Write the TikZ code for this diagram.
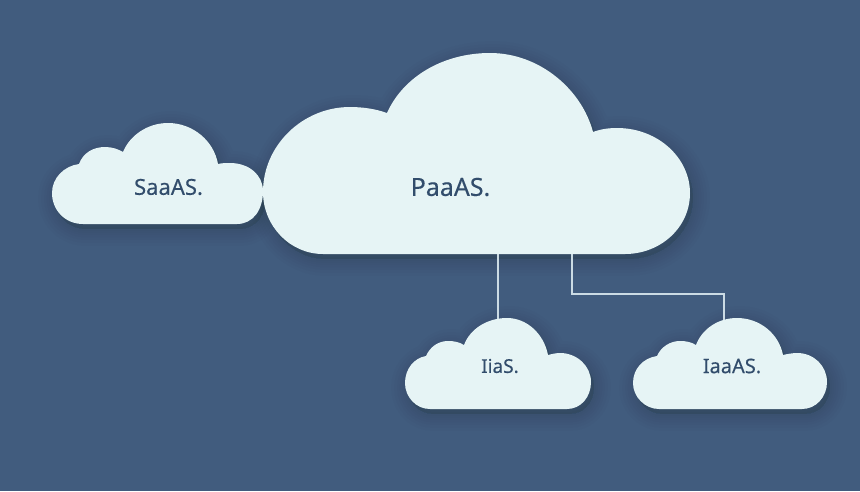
\documentclass[tikz,border=0pt]{standalone}
\usepackage{fontspec}
\setmainfont{Noto Sans}
\definecolor{bgblue}{HTML}{415C7E}
\definecolor{cloudfill}{HTML}{E6F4F5}
\definecolor{labelink}{HTML}{324D6C}
\definecolor{linkline}{HTML}{CBDBE4}
\def\paaspath{(323,254) .. controls (290,254) and (263,226) .. (263,192)
 .. controls (263,145) and (303,107) .. (350,107)
 .. controls (363,107) and (376,109) .. (387,113)
 .. controls (403,77) and (443,53) .. (490,53)
 .. controls (540,53) and (582,90) .. (593,132)
 .. controls (601,129) and (609,128) .. (617,128)
 .. controls (658,128) and (690,158) .. (690,193)
 .. controls (690,228) and (660,254) .. (625,254) -- cycle}
\def\saaspath{(83,224) .. controls (65,224) and (52,210) .. (52,193)
 .. controls (52,178) and (64,166) .. (79,164)
 .. controls (83,153) and (93,147) .. (105,147)
 .. controls (112,147) and (118,149) .. (123,152)
 .. controls (130,135) and (148,123) .. (168,123)
 .. controls (193,123) and (214,141) .. (218,164)
 .. controls (222,163) and (226,163) .. (230,163)
 .. controls (249,163) and (263,175) .. (263,191)
 .. controls (263,210) and (253,224) .. (237,224) -- cycle}
\def\iaaspath{(430,409) .. controls (416,409) and (405,397) .. (405,383)
 .. controls (405,369) and (414,358) .. (426,356)
 .. controls (430,347) and (438,341) .. (448,341)
 .. controls (454,341) and (459,342) .. (464,345)
 .. controls (470,329) and (487,318) .. (507,318)
 .. controls (527,318) and (544,334) .. (548,355)
 .. controls (552,354) and (556,353) .. (560,353)
 .. controls (577,353) and (591,366) .. (591,382)
 .. controls (591,397) and (581,409) .. (567,409) -- cycle}
\def\iiaaspath{(659,409) .. controls (645,409) and (633,397) .. (633,383)
 .. controls (633,369) and (643,358) .. (657,356)
 .. controls (661,347) and (670,341) .. (680,341)
 .. controls (686,341) and (691,342) .. (696,345)
 .. controls (702,329) and (718,318) .. (737,318)
 .. controls (760,318) and (779,334) .. (783,355)
 .. controls (787,354) and (793,353) .. (797,353)
 .. controls (814,353) and (827,366) .. (827,382)
 .. controls (827,397) and (816,409) .. (802,409) -- cycle}
\tikzset{
 cloudbody/.style={fill=cloudfill,draw=none},
 softshadow/.style={draw=black,fill=black,opacity=0.012,line join=round},
 linkstyle/.style={draw=linkline,line width=1.2pt},
 cloudlabel/.style={text=labelink,inner sep=0pt,anchor=center}
}
\newcommand{\softlayers}[1]{%
 \foreach \w in {34,28,22,17,12,8,4}{\path[softshadow,line width=\w pt,xshift=3pt,yshift=-5pt] #1;}}
\begin{document}
\begin{tikzpicture}[x=1pt,y=-1pt]
\useasboundingbox (0,0) rectangle (860,491);
\fill[bgblue] (0,0) rectangle (860,491);
\softlayers{\saaspath}
\softlayers{\iaaspath}
\softlayers{\iiaaspath}
\softlayers{\paaspath}
\coordinate (linkAtop) at (498,254);
\coordinate (linkAend) at (498,320);
\coordinate (linkBtop) at (572,254);
\coordinate (linkBend) at (724,322);
\draw[linkstyle] (linkAtop) -- (linkAend);
\draw[linkstyle] (linkBtop) |- (724,294) -- (linkBend);
\fill[cloudbody] \saaspath;
\fill[cloudbody] \paaspath;
\fill[cloudbody] \iaaspath;
\fill[cloudbody] \iiaaspath;
\node[cloudlabel,font=\fontsize{22}{26}\selectfont\addfontfeature{FakeBold=0.25}] (saas) at (168.5,187) {SaaAS.};
\node[cloudlabel,font=\fontsize{25}{30}\selectfont\addfontfeature{FakeBold=0.25}] (paas) at (450.5,187) {PaaAS.};
\node[cloudlabel,font=\fontsize{19}{23}\selectfont\addfontfeature{FakeBold=0.25}] (iias) at (500,366) {IiaS.};
\node[cloudlabel,font=\fontsize{20}{24}\selectfont\addfontfeature{FakeBold=0.25}] (iaas) at (732,366) {IaaAS.};
\end{tikzpicture}
\end{document}
